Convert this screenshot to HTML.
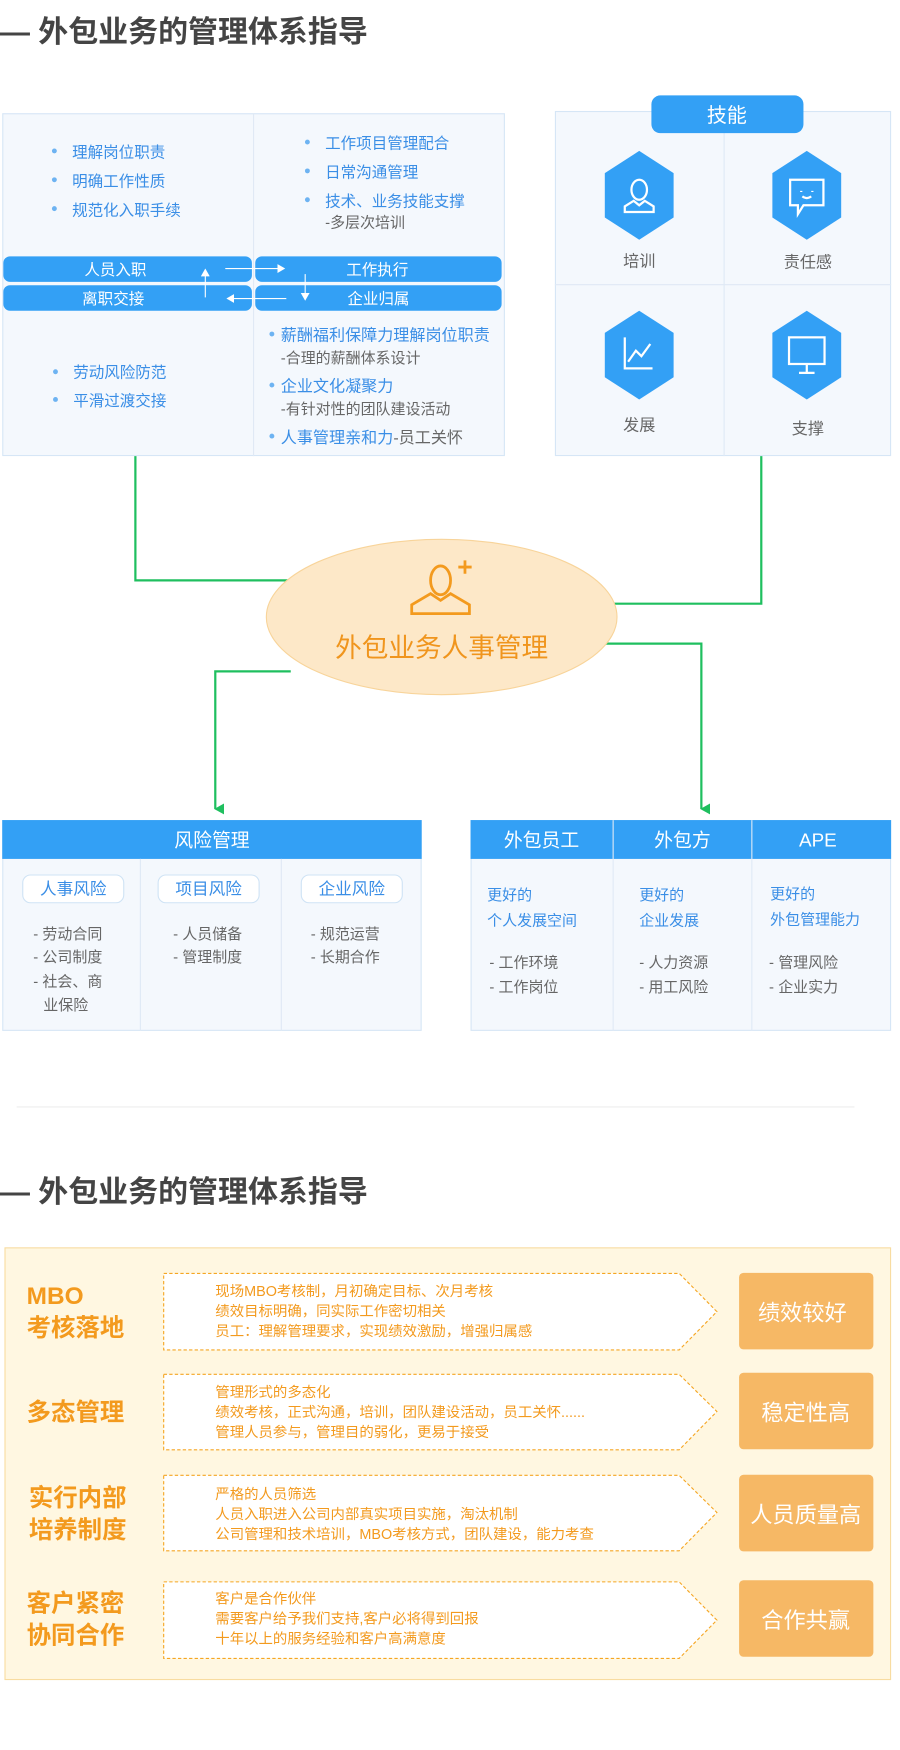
<!DOCTYPE html>
<html><head><meta charset="utf-8"><style>
html,body{margin:0;padding:0;background:#fff;}
svg{display:block;font-family:"Liberation Sans","Noto Sans CJK SC",sans-serif;}
</style></head><body>
<svg width="900" height="1750" viewBox="0 0 811 1577" preserveAspectRatio="none" xmlns="http://www.w3.org/2000/svg">
<defs>
<marker id="ga" markerWidth="10" markerHeight="10" refX="5" refY="8" orient="auto" markerUnits="userSpaceOnUse"><path d="M0,0 L10,0 L5,9 Z" fill="#1fbf5f"/></marker>
<marker id="wa" markerWidth="8" markerHeight="8" refX="6" refY="4" orient="auto" markerUnits="userSpaceOnUse"><path d="M0,0 L7,4 L0,8 Z" fill="#fff"/></marker>
</defs>
<!-- title 1 -->
<text x="0" y="38" font-size="27" font-weight="bold" fill="#444">— 外包业务的管理体系指导</text>

<!-- left box -->
<rect x="2.5" y="102.5" width="452" height="308" fill="#f4f8fd" stroke="#d6e6f6"/>
<line x1="228.5" y1="102" x2="228.5" y2="411" stroke="#dfe9f5"/>
<g fill="#3a8ee6" font-size="14">
<circle cx="49" cy="136" r="2.2" fill="#6db3f2"/><text x="65" y="142">理解岗位职责</text>
<circle cx="49" cy="162" r="2.2" fill="#6db3f2"/><text x="65" y="168">明确工作性质</text>
<circle cx="49" cy="188" r="2.2" fill="#6db3f2"/><text x="65" y="194">规范化入职手续</text>
<circle cx="50" cy="335" r="2.2" fill="#6db3f2"/><text x="66" y="340">劳动风险防范</text>
<circle cx="50" cy="360" r="2.2" fill="#6db3f2"/><text x="66" y="366">平滑过渡交接</text>
<circle cx="277" cy="128" r="2.2" fill="#6db3f2"/><text x="293" y="134">工作项目管理配合</text>
<circle cx="277" cy="154" r="2.2" fill="#6db3f2"/><text x="293" y="160">日常沟通管理</text>
<circle cx="277" cy="180" r="2.2" fill="#6db3f2"/><text x="293" y="186">技术、业务技能支撑</text>
<circle cx="245" cy="301" r="2.2" fill="#6db3f2"/><text x="253" y="307" font-size="14.5">薪酬福利保障力理解岗位职责</text>
<circle cx="245" cy="347" r="2.2" fill="#6db3f2"/><text x="253" y="353" font-size="14.5">企业文化凝聚力</text>
<circle cx="245" cy="393" r="2.2" fill="#6db3f2"/><text x="253" y="399" font-size="14.5">人事管理亲和力<tspan fill="#666">-员工关怀</tspan></text>
</g>
<g fill="#666" font-size="13.5">
<text x="293" y="205">-多层次培训</text>
<text x="253" y="327">-合理的薪酬体系设计</text>
<text x="253" y="373">-有针对性的团队建设活动</text>
</g>
<rect x="3" y="231" width="224" height="23" rx="6" fill="#33a0f5"/>
<rect x="3" y="257" width="224" height="23" rx="6" fill="#33a0f5"/>
<rect x="230" y="231" width="222" height="23" rx="6" fill="#33a0f5"/>
<rect x="230" y="257" width="222" height="23" rx="6" fill="#33a0f5"/>
<g fill="#fff" font-size="14" text-anchor="middle">
<text x="104" y="248">人员入职</text>
<text x="102" y="274">离职交接</text>
<text x="340" y="248">工作执行</text>
<text x="341" y="274">企业归属</text>
</g>
<g stroke="#fff" stroke-width="1">
<line x1="185" y1="268" x2="185" y2="243" marker-end="url(#wa)"/>
<line x1="203" y1="242" x2="256" y2="242" marker-end="url(#wa)"/>
<line x1="275" y1="247" x2="275" y2="270" marker-end="url(#wa)"/>
<line x1="258" y1="269" x2="205" y2="269" marker-end="url(#wa)"/>
</g>

<!-- right box -->
<rect x="500.5" y="100.5" width="302" height="310" fill="#f4f8fd" stroke="#d6e6f6"/>
<line x1="652.5" y1="100" x2="652.5" y2="411" stroke="#dfe9f5"/>
<line x1="500" y1="256.5" x2="803" y2="256.5" stroke="#dfe9f5"/>
<rect x="587" y="86" width="137" height="34" rx="8" fill="#33a0f5"/>
<text x="655" y="110" font-size="18" fill="#fff" text-anchor="middle">技能</text>
<g fill="#33a0f5">
<polygon points="576,136 607,156 607,196 576,216 545,196 545,156"/>
<polygon points="727,136 758,156 758,196 727,216 696,196 696,156"/>
<polygon points="576,280 607,300 607,340 576,360 545,340 545,300"/>
<polygon points="727,280 758,300 758,340 727,360 696,340 696,300"/>
</g>
<g fill="none" stroke="#fff" stroke-width="2">
<ellipse cx="576" cy="171" rx="7" ry="9"/>
<path d="M563,191 L563,186 L571,181 L576,185 L581,181 L589,186 L589,191 Z"/>
<path d="M712,162 L742,162 L742,185 L724,185 L719,193 L719,185 L712,185 Z"/>
<path d="M722,172 L722,173 M732,172 L732,173 M723,177 Q727,180 731,177"/>
<path d="M563,304 L563,332 L588,332"/>
<path d="M566,326 L573,316 L578,321 L586,310"/>
<rect x="711" y="304" width="32" height="24"/>
<path d="M727,328 L727,335 M720,336 L734,336"/>
</g>
<g fill="#666" font-size="14.5" text-anchor="middle">
<text x="576" y="240">培训</text>
<text x="728" y="241">责任感</text>
<text x="576" y="388">发展</text>
<text x="728" y="391">支撑</text>
</g>

<!-- green connectors -->
<g fill="none" stroke="#1fbf5f" stroke-width="2">
<polyline points="122,411 122,523 260,523"/>
<polyline points="686,411 686,544 553,544"/>
<polyline points="262,605 194,605 194,729" marker-end="url(#ga)"/>
<polyline points="546,580 632,580 632,729" marker-end="url(#ga)"/>
</g>

<!-- ellipse -->
<ellipse cx="398" cy="556" rx="158" ry="70" fill="#fde8c8" stroke="#f8d49a"/>
<g fill="none" stroke="#f39a1e" stroke-width="2.5">
<ellipse cx="397" cy="523" rx="9" ry="13"/>
<path d="M371,553 L371,545 L388,535 L397,541 L406,535 L423,545 L423,553 Z"/>
<path d="M419,505 L419,517 M413,511 L425,511"/>
</g>
<text x="398" y="592" font-size="24" fill="#f0951d" text-anchor="middle">外包业务人事管理</text>

<!-- risk table -->
<rect x="2.5" y="739.5" width="377" height="189" fill="#f4f8fd" stroke="#d6e6f6"/>
<rect x="2" y="739" width="378" height="35" fill="#33a0f5"/>
<text x="191" y="763" font-size="17" fill="#fff" text-anchor="middle">风险管理</text>
<line x1="126.5" y1="774" x2="126.5" y2="929" stroke="#dfe9f5"/>
<line x1="253.5" y1="774" x2="253.5" y2="929" stroke="#dfe9f5"/>
<g fill="#fff" stroke="#cfe3f5">
<rect x="20.5" y="788.5" width="91" height="25" rx="7"/>
<rect x="142.5" y="788.5" width="91" height="25" rx="7"/>
<rect x="271.5" y="788.5" width="91" height="25" rx="7"/>
</g>
<g fill="#3a8ee6" font-size="15" text-anchor="middle">
<text x="66" y="806">人事风险</text>
<text x="188" y="806">项目风险</text>
<text x="317" y="806">企业风险</text>
</g>
<g fill="#666" font-size="13.5">
<text x="30" y="846">- 劳动合同</text>
<text x="30" y="867">- 公司制度</text>
<text x="30" y="889">- 社会、商</text>
<text x="39" y="910">业保险</text>
<text x="156" y="846">- 人员储备</text>
<text x="156" y="867">- 管理制度</text>
<text x="280" y="846">- 规范运营</text>
<text x="280" y="867">- 长期合作</text>
</g>

<!-- right table -->
<rect x="424.5" y="739.5" width="378" height="189" fill="#f4f8fd" stroke="#d6e6f6"/>
<rect x="424" y="739" width="379" height="35" fill="#33a0f5"/>
<line x1="552.5" y1="739" x2="552.5" y2="929" stroke="#dfe9f5"/>
<line x1="677.5" y1="739" x2="677.5" y2="929" stroke="#dfe9f5"/>
<g fill="#fff" font-size="17" text-anchor="middle">
<text x="488" y="763">外包员工</text>
<text x="615" y="763">外包方</text>
<text x="737" y="763">APE</text>
</g>
<g fill="#3a8ee6" font-size="13.5">
<text x="439" y="811">更好的</text>
<text x="439" y="834">个人发展空间</text>
<text x="576" y="811">更好的</text>
<text x="576" y="834">企业发展</text>
<text x="694" y="810">更好的</text>
<text x="694" y="833">外包管理能力</text>
</g>
<g fill="#666" font-size="13.5">
<text x="441" y="872">- 工作环境</text>
<text x="441" y="894">- 工作岗位</text>
<text x="576" y="872">- 人力资源</text>
<text x="576" y="894">- 用工风险</text>
<text x="693" y="872">- 管理风险</text>
<text x="693" y="894">- 企业实力</text>
</g>

<line x1="15" y1="997.5" x2="770" y2="997.5" stroke="#eee"/>

<!-- title 2 -->
<text x="0" y="1083" font-size="27" font-weight="bold" fill="#444">— 外包业务的管理体系指导</text>

<!-- bottom panel -->
<rect x="4.5" y="1124.5" width="798" height="389" fill="#fff7e1" stroke="#f8dca0"/>
<g fill="#fff" stroke="#f5a623" stroke-dasharray="3,2">
<polygon points="147.5,1147.5 612,1147.5 646,1182 612,1216.5 147.5,1216.5"/>
<polygon points="147.5,1238.5 612,1238.5 646,1272 612,1306.5 147.5,1306.5"/>
<polygon points="147.5,1329.5 612,1329.5 646,1363 612,1397.5 147.5,1397.5"/>
<polygon points="147.5,1425.5 612,1425.5 646,1460 612,1494.5 147.5,1494.5"/>
</g>
<g fill="#f6b865">
<rect x="666" y="1147" width="121" height="69" rx="4"/>
<rect x="666" y="1237" width="121" height="69" rx="4"/>
<rect x="666" y="1329" width="121" height="69" rx="4"/>
<rect x="666" y="1424" width="121" height="69" rx="4"/>
</g>
<g fill="#fff" font-size="20" text-anchor="middle">
<text x="723" y="1190">绩效较好</text>
<text x="726" y="1280">稳定性高</text>
<text x="726" y="1372">人员质量高</text>
<text x="726" y="1467">合作共赢</text>
</g>
<g fill="#f39a1e" font-size="22" font-weight="bold">
<text x="24" y="1175">MBO</text>
<text x="24" y="1204">考核落地</text>
<text x="24" y="1280">多态管理</text>
<text x="26" y="1357">实行内部</text>
<text x="26" y="1386">培养制度</text>
<text x="24" y="1452">客户紧密</text>
<text x="24" y="1481">协同合作</text>
</g>
<g fill="#f39a1e" font-size="13">
<text x="194" y="1168">现场MBO考核制，月初确定目标、次月考核</text>
<text x="194" y="1186">绩效目标明确，同实际工作密切相关</text>
<text x="194" y="1204">员工：理解管理要求，实现绩效激励，增强归属感</text>
<text x="194" y="1259">管理形式的多态化</text>
<text x="194" y="1277">绩效考核，正式沟通，培训，团队建设活动，员工关怀......</text>
<text x="194" y="1295">管理人员参与，管理目的弱化，更易于接受</text>
<text x="194" y="1351">严格的人员筛选</text>
<text x="194" y="1369">人员入职进入公司内部真实项目实施，淘汰机制</text>
<text x="194" y="1387">公司管理和技术培训，MBO考核方式，团队建设，能力考查</text>
<text x="194" y="1445">客户是合作伙伴</text>
<text x="194" y="1463">需要客户给予我们支持,客户必将得到回报</text>
<text x="194" y="1481">十年以上的服务经验和客户高满意度</text>
</g>
</svg>
</body></html>
